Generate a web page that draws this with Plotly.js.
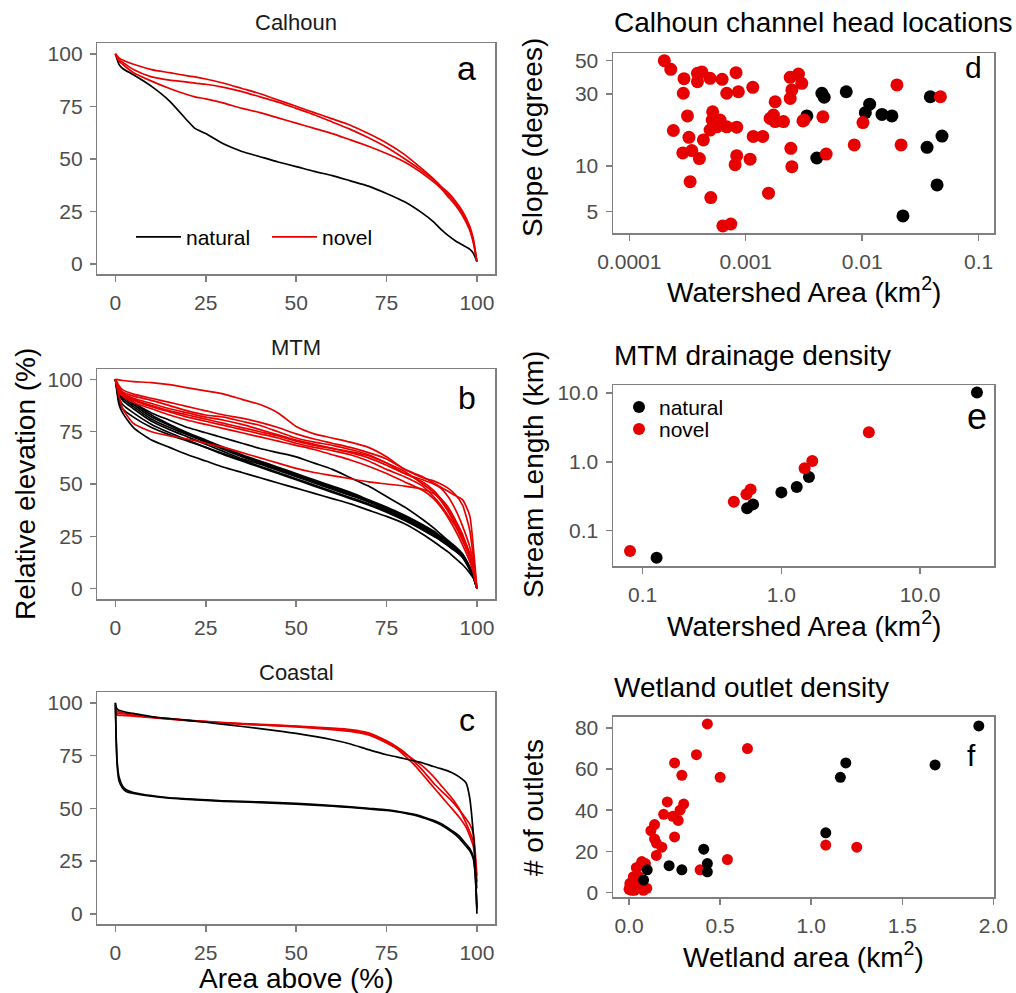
<!DOCTYPE html>
<html>
<head>
<meta charset="utf-8">
<script src="https://cdn.plot.ly/plotly-3.0.1.min.js"></script>
<style>html,body{margin:0;padding:0;background:#fff;}#chart{width:1016px;height:993px;}</style>
</head>
<body>
<div id="chart"></div>
<script>
// ---------------- DATA ----------------
// Panel a: Calhoun hypsometric curves
const gridA = [0,1,2,5,10,15,20,22,25,30,35,40,45,50,55,60,65,70,75,80,85,88,90,92,94,96,98,99,100];
const calNatural = [100,95,93,90,84.5,77.5,68,64.5,62,57,53.5,51,48.5,46.3,44,42,39.5,37,33.5,29.5,24,20,16.5,13.5,11,9,7,5,1];
const calNovel1 = [100,98,97,95,92.5,91,89.5,89,88,86,83.5,81,78,75,72,69,66,62,57.5,52,45,40.5,37,34,30,25,18,12,1];
const calNovel2 = [100,97,96,92.5,89,87.5,86.5,86,85.5,84,82,79.5,77,74,71,67.5,64,60,55.5,50,44,40,36.5,33,29,24,17,11,1];
const calNovel3 = [100,96.5,95,91,87,83.5,80.5,79.5,78.5,76.5,74,72,69.5,67,64.5,62,59,56,52.5,48.5,43,39,36,32,28,23,16,10,1];

// Panel b: MTM hypsometric curves
const gridB = [0,1,2,5,10,15,20,25,30,35,40,45,50,55,60,65,70,75,80,85,88,90,92,94,96,98,99,100];
const mtmNatural1 = [100,88,84,77,71,67.5,64,61,58,55.5,53,50.5,48,45.5,43,40.5,37.5,34.5,31,26,22.5,20,17.5,14.5,11.5,7.5,5,0];
const mtmNatural2 = [100,93,90,86,80,76,72.5,69,65.5,62,59.5,56.5,53.5,50.5,47.5,44.5,41.5,38,34,29.5,26.5,24,21.5,19,16,10,6,0];
const mtmNatural3 = [100,95,92,88,82,78,74,70.5,67,63.5,60.5,57.5,54.5,51.5,48.5,45.5,42,38.5,34.5,30,27,24.5,22,19,15.5,10,6,0];
const mtmNatural4 = [100,91,88,84,78.5,74.5,71,67.5,64,61,58,55,52,49,46,43,40,36.5,32.5,28,25,23,20.5,18,15,9.5,6,0];
const mtmNatural5 = [100,94,91,87,81,77,73.5,70,66.5,63,60,57,54,51,48,45,41.5,37.5,33.5,29,26,23.5,21,18.5,15.5,10,6,0];
const mtmNatural6 = [100,90,86,82,77,73.5,70.5,67.5,64.5,61.5,58.5,55.5,52.5,49.5,46.5,43.5,40.5,37,33,28.5,25.5,23,20.5,18,15,9,5.5,0];
const mtmNatural7 = [100,96,93,89,83,78.5,74.5,71,67.5,64,61,58,55,52,49,46,42.5,39,35,30.5,27.5,25,22.5,20,16.5,10.5,6.5,0];
const mtmNatural8 = [100,95,93,89,84,80.5,77,74.5,72,69.5,67,65,63,60,57,53,49,44,39,33,29,26,23,20,16.5,10,6,0];
const mtmNovel1 = [100,99.8,99.5,99,98.5,97.5,96,94.5,93,90.5,88,84,77.5,74,72,70,67.5,63,57,53.5,50.5,48.5,46.5,44.5,42.5,35,20,0];
const mtmNovel2 = [100,97,95,93,91,89,87,85,83,81.5,79.5,77,74,71.5,69.5,67.5,65,62,57,53,51.5,50,48,45,40,28,15,0];
const mtmNovel3 = [100,96,94,92,90,87.5,85,83,82,80,78,75,72,70,68.5,66.5,64,60,55,51,47,43,38,32,25,17,10,0];
const mtmNovel4 = [100,96,93.5,91,88.5,86,84,82,80.5,78.5,76,73.5,71,69,67,65,62.5,59,55,52,50,48,44,38,30,20,12,0];
const mtmNovel5 = [100,95,92.5,90,87,84.5,82,80,78,76,74,72,69.5,67.5,66,64,61,57,53.5,49,44,40,35,30,23,15,9,0];
const mtmNovel6 = [100,94,92,89,86,83,80.5,78.5,76.5,74.5,72.5,70.5,68.5,66.5,64,61.5,58.5,55,51,47,43,39,34,28,21,13,8,0];
const mtmNovel7 = [100,92,86,79,75,73,71.5,69.5,67.5,65,62.5,60,57.5,55.5,54,52.5,51,50,49,47.5,45.5,43,39,33,26,16,9,0];
const mtmNovel8 = [100,95,93,90.5,87.5,85,83,81,79,77,75,73,70.5,68.5,67,65.5,63.5,60,56,50,46,42,37,31,24,15,8,0];

// Panel c: Coastal hypsometric curves
const gridC = [0,0.2,0.5,1,2,3,5,10,15,20,25,30,40,50,60,65,70,75,78,80,83,85,88,90,93,95,97,98,99,99.5,100];
const coastNatural1 = [100,98,97,96.5,96,95.5,95,93.5,92.5,91.7,90.8,89.8,87.8,85.5,82.5,80.5,77.8,75.4,74.3,73.5,72.3,71.5,69.8,68.8,67,65,62,55,38,25,0];
const coastNatural2 = [100,85,72,65,60.5,58.8,57.5,56,55,54.5,54,53.5,53,52.3,51.3,50.7,50,49.3,48.6,48,47,46,44.3,42.8,39.5,37,33,31,27,20,3];
const coastNatural3 = [99,83,70,63,59.5,58,57,55.7,54.8,54.2,53.8,53.3,52.7,52,51,50.4,49.7,49,48.3,47.7,46.6,45.6,43.8,42.2,38.8,36,32,30,26,19,2];
const coastNovel1 = [97,96.5,96,95.7,95.3,95,94.5,93.3,92.5,91.8,91.2,90.6,89.8,89,88,87.3,85.8,82,79,76.5,71.5,68,62,58.5,53.5,49.5,45,42.5,38,30,18];
const coastNovel2 = [96,95.5,95.2,95,94.8,94.6,94.2,93.2,92.4,91.7,91.1,90.5,89.6,88.8,87.6,86.8,85.2,81.5,78.5,76,72.5,70,65,61,55,50,43,39,34,27,15];
const coastNovel3 = [95,94.6,94.3,94.1,94,93.9,93.7,93,92.3,91.6,91,90.4,89.5,88.6,87.3,86.5,84.8,81,78,75,70,66,60,56,50,46,41,37,32,25,12];

// Panel d: Calhoun channel heads
const headNatArea = [0.00335,0.00408,0.00451,0.00472,0.0073,0.01065,0.0116,0.0148,0.018,0.0224,0.0385,0.0361,0.0485,0.044];
const headNatSlope = [21.5,11.3,30.4,28.6,31.1,22.6,25.7,22.0,21.5,4.66,28.8,13.3,15.8,7.48];
const headNovArea = [0.0002,0.000227,0.000295,0.000291,0.000385,0.00042,0.000385,0.000494,0.000627,0.000826,0.000687,0.000865,0.00115,0.000316,0.000239,0.000325,0.000288,0.000344,0.0004,0.000333,0.000501,0.000636,0.000745,0.00052,0.000515,0.000494,0.000433,0.000602,0.000687,0.000837,0.000564,0.000837,0.000811,0.00109,0.00116,0.0014,0.00157,0.00179,0.00162,0.00179,0.00211,0.00241,0.00284,0.00303,0.00249,0.00241,0.00244,0.00249,0.0031,0.00173,0.0046,0.00318,0.00491,0.00855,0.01016,0.0199,0.0216,0.047];
const headNovSlope = [50,43.8,38,30.4,41.2,42.1,36.3,38.2,37.6,41.6,30.4,31.1,33.3,21.5,17.2,15.5,12.2,12.65,11.2,7.87,6.17,4.0,4.12,22.9,20.2,17.3,14.9,20.2,18.2,18.1,18.2,11.7,10.2,11.1,15.7,15.7,6.6,26.7,20.7,19.7,19.7,38.8,40.8,35.4,32.0,28.1,13.1,9.9,19.9,21.8,21.2,20.2,12.0,13.8,19.4,34.5,13.8,28.8];

// Panel e: MTM drainage density
const drainNatArea = [0.126,0.566,0.625,1.0,1.29,1.58,25.7];
const drainNatLen = [0.0404,0.211,0.241,0.36,0.43,0.60,10.2];
const drainNovArea = [0.081,0.454,0.56,0.60,1.47,1.67,4.27];
const drainNovLen = [0.0505,0.263,0.337,0.398,0.805,1.03,2.69];

// Panel f: wetland outlets
const wetNatArea = [1.92,1.68,1.19,1.16,1.08,0.41,0.43,0.43,0.22,0.29,0.08,0.1];
const wetNatOutlets = [81,62,63,56,29,21,14,10,13,11,6,11];
const wetNovArea = [0.43,0.65,0.37,0.25,0.29,0.50,0.21,0.30,0.28,0.19,0.24,0.27,0.25,0.14,0.12,0.14,0.15,0.18,0.15,0.54,0.39,1.08,1.25,0.07,0.04,0.09,0.06,0.024,0.005,0.0,0.015,0.042,0.079,0.097,0.06,0.033,0.005,0.02,0.05,0.01,0.03];
const wetNovOutlets = [82,70,67,63,57,56,44,43,40,38,37,35,27,33,30,26,24,22,18,16,11,23,22,15,12,14,13,7.6,4.4,1.5,1,2,1,2,4.4,6,3,5,8,2,1];

// Tick values / labels
const pctTicks = [0,25,50,75,100];
const headAreaTicks = [0.0001,0.001,0.01,0.1];
const headAreaLabels = ['0.0001','0.001','0.01','0.1'];
const slopeTicks = [5,10,30,50];
const drainTicks = [0.1,1,10];
const drainLabels = ['0.1','1.0','10.0'];
const wetAreaTicks = [0,0.5,1,1.5,2];
const wetAreaLabels = ['0.0','0.5','1.0','1.5','2.0'];
const outletTicks = [0,20,40,60,80];

// ---------------- STYLE ----------------
const FONT = 'Liberation Sans, Arial, sans-serif';
const RED = '#e60000';
const BLACK = '#000000';
const W = 1016, H = 993;
const px = v => v / W;
const py = v => 1 - v / H;

const traces = [];
function lineTrace(xs, ys, color, ax, legendName, legendId) {
  traces.push({
    type: 'scatter', mode: 'lines', x: xs, y: ys,
    xaxis: 'x' + ax, yaxis: 'y' + ax,
    line: {color: color, width: 1.7, shape: 'spline', smoothing: 0.6},
    name: legendName || '', showlegend: !!legendName, legend: legendId || 'legend',
    hoverinfo: 'skip'
  });
}
function pointTrace(xs, ys, color, ax, size, legendName, legendId) {
  traces.push({
    type: 'scatter', mode: 'markers', x: xs, y: ys,
    xaxis: 'x' + ax, yaxis: 'y' + ax,
    marker: {color: color, size: size, line: {width: 0}},
    name: legendName || '', showlegend: !!legendName, legend: legendId || 'legend3',
    hoverinfo: 'skip'
  });
}

// Panel a
lineTrace(gridA, calNatural, BLACK, '', 'natural', 'legend');
lineTrace(gridA, calNovel1, RED, '', 'novel', 'legend2');
lineTrace(gridA, calNovel2, RED, '');
lineTrace(gridA, calNovel3, RED, '');
// Panel b
[mtmNatural1,mtmNatural2,mtmNatural3,mtmNatural4,mtmNatural5,mtmNatural6,mtmNatural7,mtmNatural8].forEach(c => lineTrace(gridB, c, BLACK, '2'));
[mtmNovel1,mtmNovel2,mtmNovel3,mtmNovel4,mtmNovel5,mtmNovel6,mtmNovel7,mtmNovel8].forEach(c => lineTrace(gridB, c, RED, '2'));
// Panel c
[coastNovel1,coastNovel2,coastNovel3].forEach(c => lineTrace(gridC, c, RED, '3'));
[coastNatural1,coastNatural2,coastNatural3].forEach(c => lineTrace(gridC, c, BLACK, '3'));
// Panel d
pointTrace(headNatArea, headNatSlope, BLACK, '4', 13);
pointTrace(headNovArea, headNovSlope, RED, '4', 13);
// Panel e
pointTrace(drainNatArea, drainNatLen, BLACK, '5', 12, 'natural', 'legend3');
pointTrace(drainNovArea, drainNovLen, RED, '5', 12, 'novel', 'legend4');
// Panel f
pointTrace(wetNovArea, wetNovOutlets, RED, '6', 11);
pointTrace(wetNatArea, wetNatOutlets, BLACK, '6', 11);

function axis(domain, range, tickvals, ticktext, anchor, type) {
  return {
    domain: domain, range: range, type: type || 'linear', anchor: anchor,
    tickmode: 'array', tickvals: tickvals, ticktext: ticktext || tickvals.map(String),
    showline: true, mirror: true, linecolor: '#7f7f7f', linewidth: 1.5,
    ticks: 'outside', ticklen: 6, tickwidth: 1.5, tickcolor: '#7f7f7f',
    showgrid: false, zeroline: false, ticklabelstandoff: 3,
    tickfont: {family: FONT, size: 21, color: '#4d4d4d'},
    fixedrange: true
  };
}
function legendAt(x, y, itemwidth) {
  return {
    orientation: 'v', x: px(x), xanchor: 'left', y: py(y), yanchor: 'middle',
    bgcolor: 'rgba(0,0,0,0)', font: {family: FONT, size: 21, color: '#000'},
    itemwidth: itemwidth, tracegroupgap: 0
  };
}

const xL = [px(97.3), px(495)];
const xR = [px(613), px(994.3)];
const layout = {
  width: W, height: H,
  margin: {l: 0, r: 0, t: 0, b: 0},
  paper_bgcolor: '#ffffff', plot_bgcolor: '#ffffff',
  font: {family: FONT, color: '#000'},
  xaxis:  axis(xL, [-5,105], pctTicks, null, 'y'),
  yaxis:  axis([py(274.3), py(43.3)], [-5,105], pctTicks, null, 'x'),
  xaxis2: axis(xL, [-5,105], pctTicks, null, 'y2'),
  yaxis2: axis([py(599), py(369)], [-5,105], pctTicks, null, 'x2'),
  xaxis3: axis(xL, [-5,105], pctTicks, null, 'y3'),
  yaxis3: axis([py(924.3), py(692.3)], [-5,105], pctTicks, null, 'x3'),
  xaxis4: axis(xR, [-4.14,-0.865], headAreaTicks, headAreaLabels, 'y4', 'log'),
  yaxis4: axis([py(233), py(53)], [0.555,1.750], slopeTicks, null, 'x4', 'log'),
  xaxis5: axis(xR, [-1.214,1.535], drainTicks, drainLabels, 'y5', 'log'),
  yaxis5: axis([py(566), py(385)], [-1.513,1.116], drainTicks, drainLabels, 'x5', 'log'),
  xaxis6: axis(xR, [-0.088,2.005], wetAreaTicks, wetAreaLabels, 'y6'),
  yaxis6: axis([py(897.3), py(716.7)], [-2.4,85.5], outletTicks, null, 'x6'),
  legend:  legendAt(131, 237.3, 45),
  legend2: legendAt(267, 237.3, 45),
  legend3: legendAt(619, 407.3, 30),
  legend4: legendAt(619, 429.3, 30),
  annotations: []
};

function ann(text, x, y, size, opts) {
  layout.annotations.push(Object.assign({
    text: text, x: px(x), y: py(y), xref: 'paper', yref: 'paper',
    xanchor: 'center', yanchor: 'middle', showarrow: false,
    font: {family: FONT, size: size, color: '#000'}
  }, opts || {}));
}
// Panel titles
ann('Calhoun', 296, 22.7, 22, {font: {family: FONT, size: 22, color: '#1a1a1a'}});
ann('MTM', 296, 347.7, 22, {font: {family: FONT, size: 22, color: '#1a1a1a'}});
ann('Coastal', 296, 672.3, 22, {font: {family: FONT, size: 22, color: '#1a1a1a'}});
ann('Calhoun channel head locations', 612, 22.7, 28, {xanchor: 'left'});
ann('MTM drainage density', 612, 355.7, 28, {xanchor: 'left'});
ann('Wetland outlet density', 612, 687.7, 28, {xanchor: 'left'});
// Axis titles
ann('Area above (%)', 296, 978, 28);
ann('Watershed Area (km<sup>2</sup>)', 803.5, 290, 28);
ann('Watershed Area (km<sup>2</sup>)', 803.5, 623.7, 28);
ann('Wetland area (km<sup>2</sup>)', 803.5, 955.3, 28);
ann('Relative elevation (%)', 25, 484, 28, {textangle: -90});
ann('Slope (degrees)', 533, 138, 28, {textangle: -90});
ann('Stream Length (km)', 533, 475, 28, {textangle: -90});
ann('# of outlets', 533, 808, 28, {textangle: -90});
// Panel letters
ann('a', 466.7, 68, 34);
ann('b', 466.7, 398, 32);
ann('c', 466.7, 720, 32);
ann('d', 973.3, 68, 30);
ann('e', 976.7, 416, 36);
ann('f', 971, 755, 30);

Plotly.newPlot('chart', traces, layout, {displayModeBar: false, staticPlot: true});
</script>
</body>
</html>
